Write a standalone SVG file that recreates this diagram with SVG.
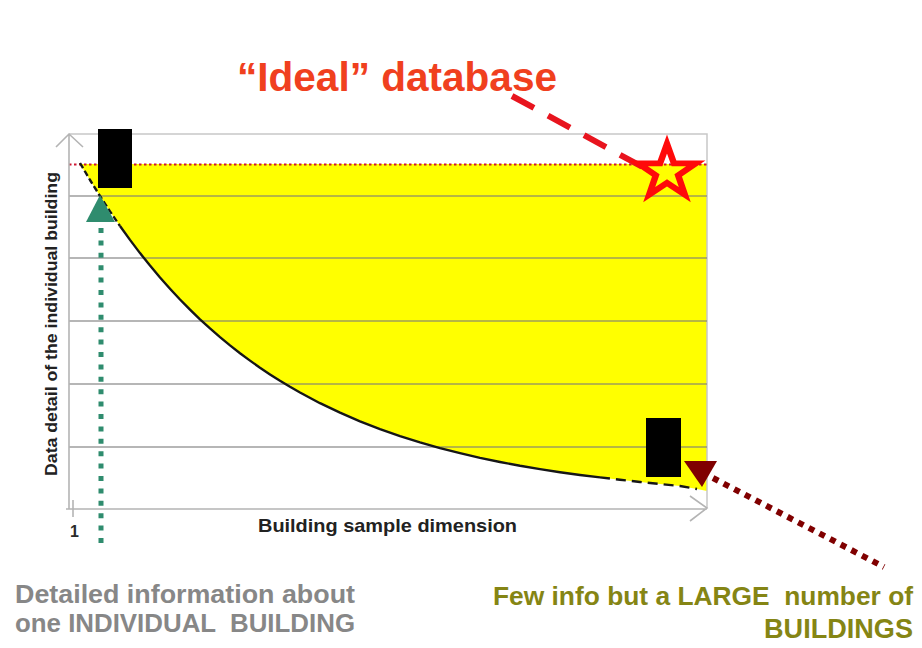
<svg xmlns="http://www.w3.org/2000/svg" width="922" height="648" viewBox="0 0 922 648">
  <style>
    .frame { stroke: #c8c8c8; stroke-width: 1.5; fill: none; }
    .axis { stroke: #b4b4b4; stroke-width: 1.6; fill: none; }
    .grid { stroke: #7a7a7a; stroke-opacity: 0.55; stroke-width: 2; }
    .curve { stroke: #161616; stroke-width: 2.4; fill: none; stroke-linejoin: round; }
    .lbl { font-family: "Liberation Sans", Arial, sans-serif; font-weight: bold; }
    .box { fill: #000000; }
  </style>

  <rect width="922" height="648" fill="#ffffff"/>

  <!-- chart area -->
  <g id="chart">
    <!-- achievable region between the ideal level and the trade-off curve -->
    <path id="region" fill="#ffff00" d="M80,164 L707,164 L707,491 L697,489 L680,486 L660,484 L640,482 L620,479.7 L600,477.4 L580,475 L560,472.2 L540,469.1 L520,465.8 L500,462 L480,457.9 L460,453.2 L440,448.1 L420,442.4 L400,436.1 L380,429.1 L360,421.3 L340,412.7 L320,403.2 L300,392.5 L290,386.8 L280,380.8 L270,374.4 L260,367.7 L250,360.6 L240,353.2 L230,345.4 L220,337.1 L210,328.4 L200,319.3 L190,309.6 L180,299.5 L170,288.7 L160,277.5 L150,265.6 L140,253.1 L130,239.9 L120,226 L110,211.4 L100,196 L90,180 Z"/>

    <!-- outer frame -->
    <path class="frame" d="M69,134 L707,134 L707,508"/>

    <!-- horizontal grid -->
    <line class="grid" x1="69" y1="196" x2="707" y2="196"/>
    <line class="grid" x1="69" y1="258" x2="707" y2="258"/>
    <line class="grid" x1="69" y1="321" x2="707" y2="321"/>
    <line class="grid" x1="69" y1="384" x2="707" y2="384"/>
    <line class="grid" x1="69" y1="447" x2="707" y2="447"/>

    <!-- ideal level -->
    <line x1="69" y1="164.5" x2="707" y2="164.5" stroke="#cc1530" stroke-width="2" stroke-dasharray="2.5 2.5"/>

    <!-- trade-off curve -->
    <polyline class="curve" stroke-dasharray="6 3" points="80,163 90,180 100,196 110,211.4 120,226"/>
    <polyline class="curve" points="120,226 130,239.9 140,253.1 150,265.6 160,277.5 170,288.7 180,299.5 190,309.6 200,319.3 210,328.4 220,337.1 230,345.4 240,353.2 250,360.6 260,367.7 270,374.4 280,380.8 290,386.8 300,392.5 320,403.2 340,412.7 360,421.3 380,429.1 400,436.1 420,442.4 440,448.1 460,453.2 480,457.9 500,462 520,465.8 540,469.1 560,472.2 580,475 600,477.4"/>
    <polyline class="curve" stroke-dasharray="10 6" points="600,477.4 620,479.7 640,482 660,484 680,486 697,489"/>

    <!-- axes -->
    <path class="axis" d="M69,509 L69,134 M56,147 L69,134 L83,147"/>
    <path class="axis" d="M66,509 L707,509 M690,496 L707,508 L690,521"/>
    <line class="axis" x1="73" y1="500" x2="73" y2="517"/>

    <text class="lbl" x="70" y="537" font-size="16" fill="#2a2a2a">1</text>
    <text class="lbl" x="258" y="532" font-size="19" fill="#222222" textLength="259" lengthAdjust="spacingAndGlyphs">Building sample dimension</text>
    <text class="lbl" transform="translate(57,324) rotate(-90)" text-anchor="middle" font-size="17" fill="#222222" textLength="304" lengthAdjust="spacingAndGlyphs">Data detail of the individual building</text>
  </g>

  <!-- connectors -->
  <g id="connectors">
    <line x1="512" y1="96" x2="648" y2="170" stroke="#e8141e" stroke-width="6" stroke-dasharray="25 16"/>
    <line x1="101" y1="228" x2="101" y2="546" stroke="#2f8c6e" stroke-width="5" stroke-dasharray="5 7.4"/>
    <polygon points="100,195 86,222 115,222" fill="#2f8c6e"/>
    <line x1="713" y1="478" x2="884" y2="567" stroke="#800000" stroke-width="6" stroke-dasharray="6 6"/>
    <polygon points="684,461 717,461 702,487" fill="#800000"/>
  </g>

  <g id="ideal-label">
    <text class="lbl" x="237" y="91" font-size="40" fill="#f0401e" textLength="320" lengthAdjust="spacingAndGlyphs">“Ideal” database</text>
  </g>

  <g id="ideal-star">
    <polygon transform="translate(667,172) scale(1.08,1)" fill="none" stroke="#ff0a0a" stroke-width="6" stroke-miterlimit="10"
      points="0,-28 6.4,-8.8 26.6,-8.65 10.36,3.36 16.46,22.65 0,10.9 -16.46,22.65 -10.36,3.36 -26.6,-8.65 -6.4,-8.8"/>
  </g>

  <g id="individual-box">
    <rect class="box" x="98" y="129" width="34" height="59"/>
  </g>

  <g id="large-box">
    <rect class="box" x="646" y="418" width="35" height="59"/>
  </g>

  <g id="individual-label" fill="#878787">
    <text class="lbl" x="15" y="603" font-size="26" textLength="340" lengthAdjust="spacingAndGlyphs">Detailed information about</text>
    <text class="lbl" x="15" y="632" font-size="26" textLength="340" lengthAdjust="spacingAndGlyphs" xml:space="preserve">one INDIVIDUAL  BUILDING</text>
  </g>

  <g id="large-label" fill="#858514">
    <text class="lbl" x="493" y="605" font-size="26.5" textLength="420" lengthAdjust="spacingAndGlyphs" xml:space="preserve">Few info but a LARGE  number of</text>
    <text class="lbl" x="913" y="638" font-size="27" text-anchor="end" textLength="149" lengthAdjust="spacingAndGlyphs">BUILDINGS</text>
  </g>
</svg>
